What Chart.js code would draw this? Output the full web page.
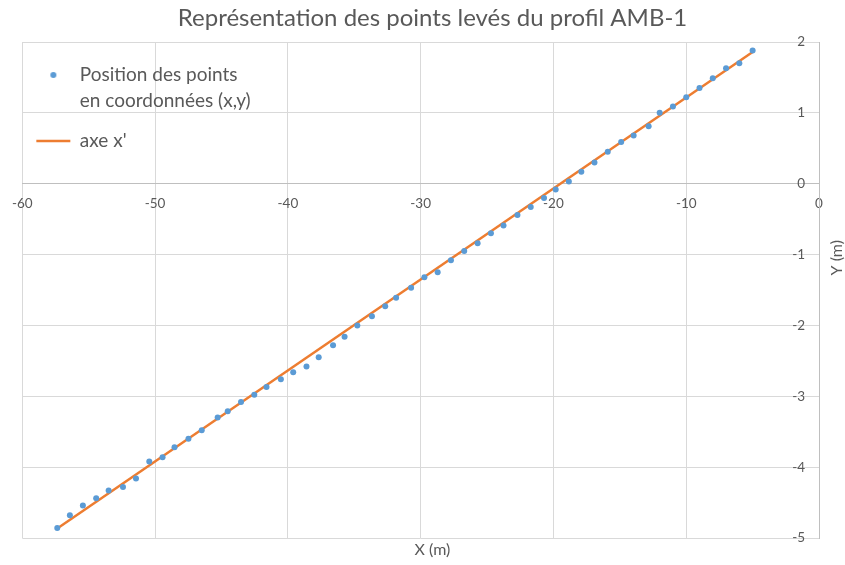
<!DOCTYPE html>
<html>
<head>
<meta charset="utf-8">
<script src="https://cdn.jsdelivr.net/npm/chart.js@4/dist/chart.umd.min.js"></script>
<style>
html,body{margin:0;padding:0;background:#ffffff;}
#wrap{width:845px;height:565px;}
</style>
</head>
<body>
<div id="wrap"><canvas id="c" width="845" height="565"></canvas></div>
<script>
// ---- texts ----
const chartTitle = 'Représentation des points levés du profil AMB-1';
const xAxisTitle = 'X (m)';
const yAxisTitle = 'Y (m)';
const pointsLabel = ['Position des points', 'en coordonnées (x,y)'];
const lineLabel = "axe x'";

// ---- surveyed points (x, y) ----
const pointsX = [-57.37, -56.42, -55.44, -54.44, -53.5, -52.42, -51.44, -50.44, -49.44, -48.54,
  -47.49, -46.49, -45.29, -44.53, -43.53, -42.53, -41.61, -40.53, -39.6, -38.6,
  -37.68, -36.6, -35.73, -34.77, -33.67, -32.67, -31.85, -30.72, -29.72, -28.72,
  -27.72, -26.72, -25.71, -24.71, -23.76, -22.71, -21.71, -20.71, -19.83, -18.84,
  -17.9, -16.91, -15.91, -14.9, -13.96, -12.83, -12.0, -11.0, -10.0, -9.0,
  -8.0, -7.0, -6.0, -5.0];
const pointsY = [-4.86, -4.68, -4.54, -4.44, -4.33, -4.28, -4.16, -3.92, -3.86, -3.72,
  -3.60, -3.48, -3.30, -3.21, -3.08, -2.98, -2.87, -2.76, -2.66, -2.58,
  -2.45, -2.28, -2.16, -2.00, -1.87, -1.73, -1.61, -1.47, -1.32, -1.25,
  -1.08, -0.95, -0.84, -0.70, -0.59, -0.44, -0.33, -0.20, -0.08, 0.03,
  0.17, 0.30, 0.45, 0.59, 0.68, 0.81, 1.00, 1.09, 1.22, 1.35,
  1.49, 1.63, 1.70, 1.88];

// ---- axis x' (fitted line end points) ----
const axisX = [-57.4, -5.0];
const axisY = [-4.87, 1.86];

// ---- axis ranges ----
const xRange = [-60, 0];
const xStep = 10;
const yRange = [-5, 2];
const yStep = 1;

// ---- styles ----
const BLUE = '#5B9BD5';
const ORANGE = '#ED7D31';
const TEXT = '#595959';
const GRID = '#d9d9d9';
const AXIS = '#bfbfbf';
const FONT = 'Lato, "Open Sans", sans-serif';

Chart.defaults.font.family = FONT;
Chart.defaults.color = TEXT;

const pointData = pointsX.map((x, i) => ({x: x, y: pointsY[i]}));
const lineData = axisX.map((x, i) => ({x: x, y: axisY[i]}));

// legend marker for the point series
const dot = document.createElement('canvas');
dot.width = 8; dot.height = 8;
(function(){
  const d = dot.getContext('2d');
  d.fillStyle = BLUE;
  d.beginPath(); d.arc(4, 4, 3, 0, Math.PI * 2); d.fill();
})();

const yTitlePlugin = {
  id: 'yTitle',
  afterDraw(chart) {
    const {ctx, chartArea} = chart;
    ctx.save();
    ctx.translate(chartArea.right + 18, chartArea.top + (chartArea.bottom - chartArea.top) * 0.435);
    ctx.rotate(-Math.PI / 2);
    ctx.font = '16px ' + FONT;
    ctx.fillStyle = TEXT;
    ctx.textAlign = 'center';
    ctx.textBaseline = 'middle';
    ctx.fillText(yAxisTitle, 0, 0);
    ctx.restore();
  }
};

new Chart(document.getElementById('c'), {
  type: 'scatter',
  data: {
    datasets: [
      {
        label: pointsLabel.join(' '),
        data: pointData,
        backgroundColor: BLUE,
        borderColor: BLUE,
        pointRadius: 3,
        pointBorderWidth: 0,
        pointStyle: 'circle',
        order: 0
      },
      {
        label: lineLabel,
        data: lineData,
        showLine: true,
        borderColor: ORANGE,
        backgroundColor: ORANGE,
        borderWidth: 2.5,
        pointRadius: 0,
        pointHoverRadius: 0,
        pointStyle: 'line',
        order: 1
      }
    ]
  },
  options: {
    responsive: false,
    animation: false,
    devicePixelRatio: 1,
    layout: {padding: {left: 20, right: 0, top: 0, bottom: 0}},
    scales: {
      x: {
        type: 'linear',
        position: {y: 0},
        min: xRange[0], max: xRange[1],
        ticks: {stepSize: xStep, padding: 12, font: {size: 13.5}, color: TEXT},
        grid: {color: GRID, lineWidth: 1, drawTicks: false},
        border: {color: AXIS, width: 1}
      },
      y: {
        type: 'linear',
        position: 'right',
        min: yRange[0], max: yRange[1],
        ticks: {stepSize: yStep, mirror: true, padding: -14, font: {size: 13.5}, color: TEXT},
        grid: {color: GRID, lineWidth: 1, drawTicks: false},
        border: {color: AXIS, width: 1},
        afterFit(scale) { scale.width = 26; }
      }
    },
    plugins: {
      title: {
        display: true,
        text: chartTitle,
        color: TEXT,
        font: {size: 24, weight: 'normal', lineHeight: 1.2},
        padding: {top: 3.6, bottom: 9.6}
      },
      subtitle: {
        display: true,
        position: 'bottom',
        text: xAxisTitle,
        color: TEXT,
        font: {size: 16, weight: 'normal', lineHeight: 1.2},
        padding: {top: 2.4, bottom: 5.4}
      },
      legend: {
        display: true,
        position: 'chartArea',
        align: 'start',
        title: {display: true, text: '', padding: {top: 50.5, bottom: 0}, font: {size: 1, lineHeight: 1}},
        labels: {
          usePointStyle: true,
          pointStyleWidth: 34,
          padding: 14,
          color: TEXT,
          font: {size: 19, lineHeight: 1.368},
          generateLabels(chart) {
            const items = Chart.defaults.plugins.legend.labels.generateLabels(chart);
            items.forEach(it => {
              if (it.datasetIndex === 0) {
                it.pointStyle = dot;
                it.text = pointsLabel;
              } else {
                it.pointStyle = 'line';
                it.strokeStyle = ORANGE;
                it.lineWidth = 2.5;
              }
            });
            return items;
          }
        }
      },
      tooltip: {enabled: false}
    }
  },
  plugins: [yTitlePlugin]
});
</script>
</body>
</html>
